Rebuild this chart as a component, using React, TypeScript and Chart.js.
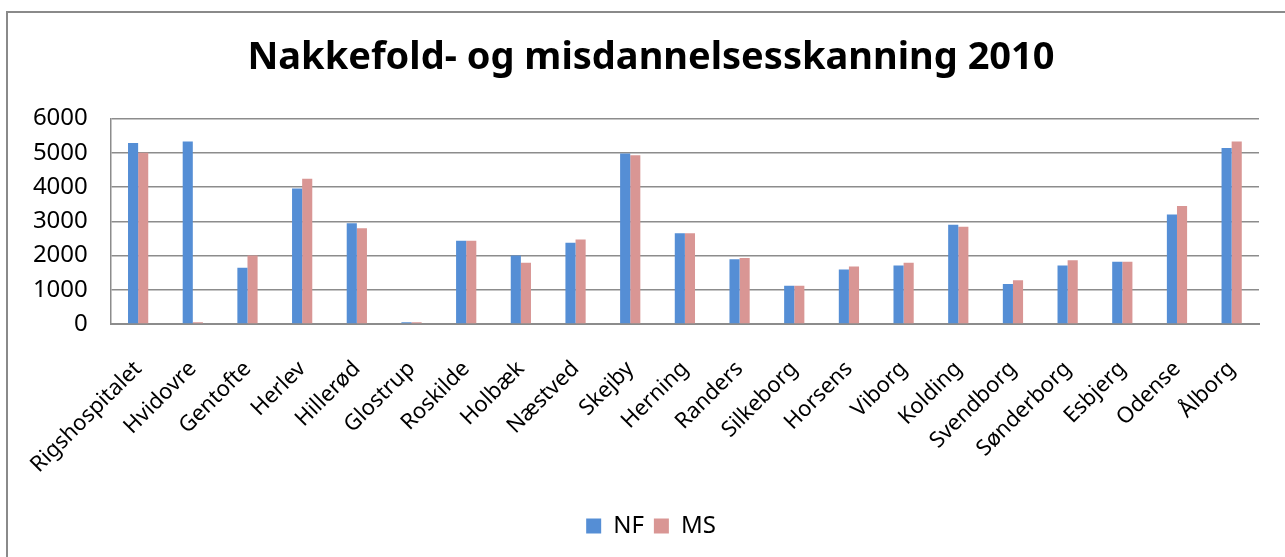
import React, { useEffect, useRef } from "react";
import { Chart, registerables } from "chart.js";

Chart.register(...registerables);

const categories = [
  "Rigshospitalet", "Hvidovre", "Gentofte", "Herlev", "Hillerød", "Glostrup", "Roskilde",
  "Holbæk", "Næstved", "Skejby", "Herning", "Randers", "Silkeborg", "Horsens", "Viborg",
  "Kolding", "Svendborg", "Sønderborg", "Esbjerg", "Odense", "Ålborg",
];
const nfValues = [5290, 5330, 1640, 3960, 2940, 50, 2430, 2000, 2370, 4980, 2650, 1890, 1120, 1590, 1710, 2900, 1170, 1710, 1820, 3200, 5140];
const msValues = [5000, 50, 2000, 4240, 2800, 50, 2430, 1790, 2470, 4930, 2650, 1930, 1120, 1680, 1790, 2840, 1280, 1860, 1820, 3450, 5330];
const yTicks = [0, 1000, 2000, 3000, 4000, 5000, 6000];
const titleText = "Nakkefold- og misdannelsesskanning 2010";

const FONT = "'Noto Sans', 'Open Sans', sans-serif";
const GRID = "#8c8c8c";

const frame = {
  id: "frame",
  beforeDraw(chart: any) {
    const ctx = chart.ctx;
    ctx.save();
    ctx.fillStyle = "#ffffff";
    ctx.fillRect(0, 0, chart.width, chart.height);
    ctx.strokeStyle = "#8a8a8a";
    ctx.lineWidth = 2;
    ctx.strokeRect(7, 12, chart.width + 20, chart.height + 20);
    ctx.restore();
  },
};

// widen the y scale's clip box so its tick labels are not cut by the left layout padding
const labelRoom = {
  id: "labelRoom",
  afterLayout(chart: any) {
    const y = chart.scales.y;
    if (y) y.left = 0;
  },
};

export default function App() {
  const ref = useRef<HTMLCanvasElement>(null);
  useEffect(() => {
    if (!ref.current) return;
    const chart = new Chart(ref.current, {
      type: "bar",
      data: {
        labels: categories,
        datasets: [
          { label: "NF", data: nfValues, backgroundColor: "#558ED5", borderWidth: 0 },
          { label: "MS", data: msValues, backgroundColor: "#D99694", borderWidth: 0 },
        ],
      },
      options: {
        animation: false,
        responsive: false,
        maintainAspectRatio: false,
        layout: { padding: { left: 43, right: 26, top: 0, bottom: 9 } },
        datasets: { bar: { barPercentage: 1, categoryPercentage: 0.37 } },
        plugins: {
          title: {
            display: true,
            text: titleText,
            color: "#000",
            font: { family: FONT, size: 38, weight: "bold" },
            padding: { top: 35, bottom: 38 },
          },
          legend: {
            position: "bottom",
            labels: {
              boxWidth: 15,
              boxHeight: 15,
              padding: 10,
              color: "#000",
              font: { family: FONT, size: 24 },
            },
          },
          tooltip: { enabled: false },
        },
        scales: {
          x: {
            grid: { display: false, drawTicks: false },
            border: { display: true, color: GRID, width: 2 },
            ticks: {
              color: "#000",
              font: { family: FONT, size: 22 },
              maxRotation: 45,
              minRotation: 45,
              padding: 32,
              autoSkip: false,
            },
            afterFit(scale: any) {
              scale.height = 180;
            },
          },
          y: {
            min: 0,
            max: 6000,
            afterBuildTicks(scale: any) {
              scale.ticks = yTicks.map((v) => ({ value: v }));
            },
            grid: { color: GRID, lineWidth: 1.5, drawTicks: false },
            border: { display: true, color: GRID, width: 1.5 },
            ticks: {
              color: "#000",
              font: { family: FONT, size: 24 },
              padding: 23,
              callback: (v: any) => String(v),
            },
            afterFit(scale: any) {
              scale.width = 67;
            },
          },
        },
      },
      plugins: [frame, labelRoom],
    } as any);
    return () => chart.destroy();
  }, []);
  return (
    <div style={{ position: "fixed", left: 0, top: 0, width: 1285, height: 557, background: "#fff" }}>
      <canvas ref={ref} width={1285} height={557} style={{ display: "block" }} />
    </div>
  );
}
